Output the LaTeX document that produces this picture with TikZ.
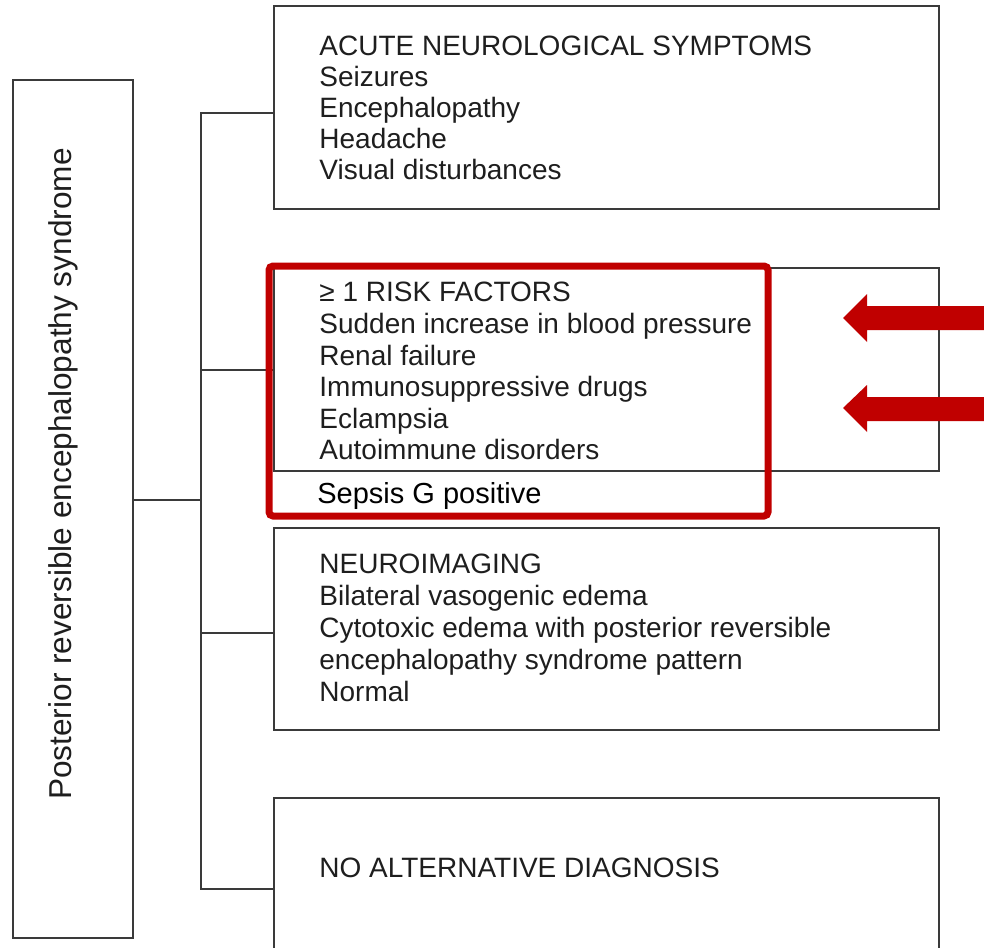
\documentclass[tikz,border=0pt]{standalone}
\usepackage{fontspec}
\setmainfont{Liberation Sans}
\usepackage{xcolor}
\usepackage{tikz}
\definecolor{linegray}{HTML}{3A3A3A}
\definecolor{textgray}{HTML}{1E1E1E}
\definecolor{alertred}{HTML}{C00000}
\usetikzlibrary{calc}

\begin{document}
\begin{tikzpicture}[
    x=0.5pt, y=-0.5pt,
    every node/.style={font=\fontsize{14}{15.5}\selectfont},
    panel/.style={draw=linegray, line width=1pt, anchor=north west,
                  inner sep=0pt, minimum width=332.5pt},
    itemtext/.style={anchor=north west, align=left, inner sep=0pt,
                     text=textgray},
    link/.style={draw=linegray, line width=1pt},
    redframe/.style={draw=alertred, line width=3.5pt, rounded corners=2pt},
]
% --- Page frame ---
\clip (0,0) rectangle (984,947);

% --- Main diagnosis box (rotated label) ---
\node[draw=linegray, line width=1pt, inner sep=0pt,
      minimum width=60pt, minimum height=429pt] (pres) at (73,509) {};
\node[rotate=90, inner sep=0pt, text=textgray,
      font=\fontsize{15.8}{18}\selectfont]
    (presTxt) at (63,474) {Posterior reversible encephalopathy syndrome};

% --- Criteria boxes ---
\node[panel, minimum height=101.5pt] (acute)   at (273,5)   {};
\node[panel, minimum height=101.5pt] (risk)    at (273,267) {};
\node[panel, minimum height=101pt]   (imaging) at (273,527) {};
\node[panel, minimum height=91pt]    (noalt)   at (273,797) {};

% --- Box contents ---
\node[itemtext, font=\fontsize{14}{15.4}\selectfont] (acuteTxt) at (319,36)
    {ACUTE NEUROLOGICAL SYMPTOMS\\
     Seizures\\
     Encephalopathy\\
     Headache\\
     Visual disturbances};

\node[itemtext, font=\fontsize{14}{15.8}\selectfont] (riskTxt) at (319,282)
    {≥ 1 RISK FACTORS\\
     Sudden increase in blood pressure\\
     Renal failure\\
     Immunosuppressive drugs\\
     Eclampsia\\
     Autoimmune disorders};

\node[itemtext, font=\fontsize{14}{16}\selectfont] (imagingTxt) at (319,554)
    {NEUROIMAGING\\
     Bilateral vasogenic edema\\
     Cytotoxic edema with posterior reversible\\
     encephalopathy syndrome pattern\\
     Normal};

\node[itemtext] (noaltTxt) at (319,858) {NO ALTERNATIVE DIAGNOSIS};

% --- Bracket joining the criteria ---
\coordinate (hub) at (201,500);
\draw[link] (pres.east |- hub) -- (hub);
\draw[link] ([yshift=-3pt]acute.west) -| (hub);
\draw[link] (risk.west) -| (hub);
\draw[link] ([yshift=-2pt]imaging.west) -| (hub);
\draw[link] (noalt.west) -| (hub);

% --- Highlight: added risk factor ---
\node[itemtext, text=black, font=\fontsize{14.5}{16}\selectfont]
    (sepsisTxt) at (317,482) {Sepsis G positive};
\draw[redframe] (269,266) rectangle (768,516);

% --- Pointer arrows ---
\fill[alertred] (843,318) -- (867,294) -- (867,306) -- (990,306)
    -- (990,330) -- (867,330) -- (867,342) -- cycle;
\fill[alertred] (843,408) -- (867,385) -- (867,397) -- (990,397)
    -- (990,421) -- (867,421) -- (867,432) -- cycle;
\end{tikzpicture}
\end{document}
